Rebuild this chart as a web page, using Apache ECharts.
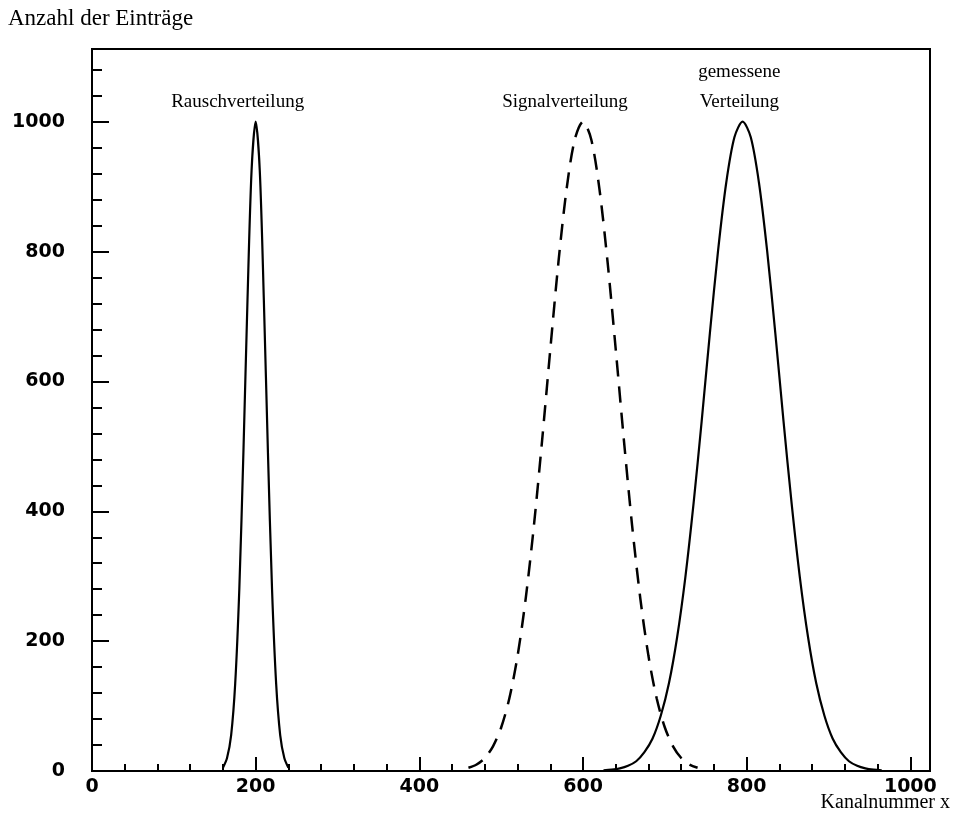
<!DOCTYPE html>
<html>
<head>
<meta charset="utf-8">
<script src="https://cdn.jsdelivr.net/npm/echarts@6/dist/echarts.min.js"></script>
<style>
  html, body { margin: 0; padding: 0; background: #fff; }
  #chart { width: 954px; height: 821px; }
</style>
</head>
<body>
<div id="chart"></div>
<script>
// Rauschverteilung (noise), solid narrow peak
const noiseX = [160, 165, 170, 175, 180, 185, 190, 195, 200, 205, 210, 215, 220, 225, 230, 235, 240];
const noiseY = [5, 20, 55, 135, 280, 490, 725, 925, 1000, 925, 725, 490, 280, 135, 55, 20, 5];

// Signalverteilung, dashed
const signalX = [460, 470, 480, 490, 500, 510, 520, 530, 540, 550, 560, 570, 580, 590, 600,
                 610, 620, 630, 640, 650, 660, 670, 680, 690, 700, 710, 720, 730, 740];
const signalY = [5, 10, 20, 38, 67, 112, 177, 266, 378, 509, 649, 784, 897, 973, 1000,
                 973, 897, 784, 649, 509, 378, 266, 177, 112, 67, 38, 20, 10, 5];

// gemessene Verteilung, solid wide peak
const measX = [625, 635, 645, 655, 665, 675, 685, 695, 705, 715, 725, 735, 745, 755, 765, 775, 785, 795,
               805, 815, 825, 835, 845, 855, 865, 875, 885, 895, 905, 915, 925, 935, 945, 955, 965];
const measY = [1, 2, 4, 8, 15, 29, 50, 85, 135, 206, 298, 411, 539, 674, 801, 906, 976, 1000,
               976, 906, 801, 674, 539, 411, 298, 206, 135, 85, 50, 29, 15, 8, 4, 2, 1];

const xMajorTicks = 200, xMinorTicks = 40;
const yMajorTicks = 200, yMinorTicks = 40;

const annotations = [
  { value: [178, 1031], name: 'Rauschverteilung' },
  { value: [578, 1031], name: 'Signalverteilung' },
  { value: [791, 1076], name: 'gemessene' },
  { value: [791, 1031], name: 'Verteilung' }
];

function pairs(xs, ys) { return xs.map((x, i) => [x, ys[i]]); }

const chart = echarts.init(document.getElementById('chart'), null, { renderer: 'canvas' });

const gridBox = { left: 92, right: 24, top: 49, bottom: 50 };
const tickFont = { fontFamily: 'DejaVu Sans', fontSize: 19, fontWeight: 'bold', color: '#000' };
const serif = 'Liberation Serif';

const xBase = { type: 'value', min: 0, max: 1024, splitLine: { show: false } };
const yBase = { type: 'value', min: 0, max: 1112, splitLine: { show: false } };

chart.setOption({
  animation: false,
  backgroundColor: '#fff',
  grid: [
    Object.assign({ show: true, borderColor: '#000', borderWidth: 2, backgroundColor: 'transparent' }, gridBox),
    Object.assign({ show: false }, gridBox)
  ],
  xAxis: [
    Object.assign({}, xBase, {
      gridIndex: 0, interval: xMajorTicks,
      axisLine: { lineStyle: { color: '#000', width: 2 } },
      axisTick: { inside: true, length: 14, lineStyle: { color: '#000', width: 2 } },
      axisLabel: Object.assign({ margin: 7, formatter: v => (v % xMajorTicks === 0 ? String(v) : '') }, tickFont)
    }),
    Object.assign({}, xBase, {
      gridIndex: 1, interval: xMinorTicks,
      axisLine: { show: false },
      axisTick: { inside: true, length: 7, lineStyle: { color: '#000', width: 2 } },
      axisLabel: { show: false }
    })
  ],
  yAxis: [
    Object.assign({}, yBase, {
      gridIndex: 0, interval: yMajorTicks,
      axisLine: { lineStyle: { color: '#000', width: 2 } },
      axisTick: { inside: true, length: 17, lineStyle: { color: '#000', width: 2 } },
      axisLabel: Object.assign({ margin: 27, formatter: v => (v % yMajorTicks === 0 ? String(v) : '') }, tickFont)
    }),
    Object.assign({}, yBase, {
      gridIndex: 1, interval: yMinorTicks,
      axisLine: { show: false },
      axisTick: { inside: true, length: 10, lineStyle: { color: '#000', width: 2 } },
      axisLabel: { show: false }
    })
  ],
  graphic: [
    { type: 'text', left: 8, top: 7,
      style: { text: 'Anzahl der Einträge', font: '23px "Liberation Serif"', fill: '#000' } },
    { type: 'text', right: 4, top: 793,
      style: { text: 'Kanalnummer x', font: '20px "Liberation Serif"', fill: '#000' } }
  ],
  series: [
    {
      name: 'Rauschverteilung', type: 'line', smooth: 0.3, symbol: 'none',
      lineStyle: { color: '#000', width: 2.2 },
      data: pairs(noiseX, noiseY)
    },
    {
      name: 'Signalverteilung', type: 'line', smooth: 0.3, symbol: 'none',
      lineStyle: { color: '#000', width: 2.5, type: [16, 10] },
      data: pairs(signalX, signalY)
    },
    {
      name: 'gemessene Verteilung', type: 'line', smooth: 0.3, symbol: 'none',
      lineStyle: { color: '#000', width: 2.2 },
      data: pairs(measX, measY)
    },
    {
      name: 'labels', type: 'scatter', symbolSize: 0, silent: true,
      itemStyle: { opacity: 1 },
      label: {
        show: true, position: 'inside', formatter: p => p.name,
        fontFamily: serif, fontSize: 19, color: '#000'
      },
      data: annotations
    }
  ]
});
</script>
</body>
</html>
